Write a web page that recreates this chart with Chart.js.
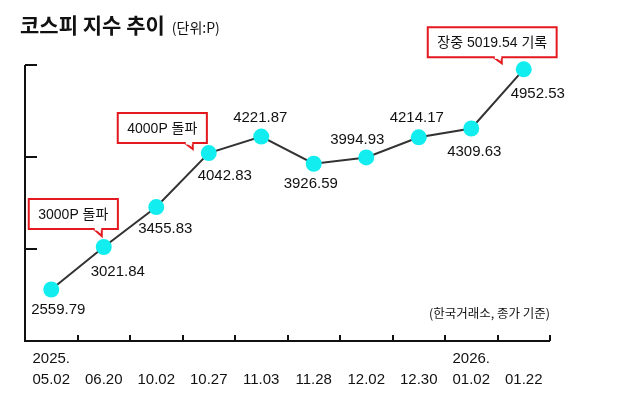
<!DOCTYPE html>
<html>
<head>
<meta charset="utf-8">
<script src="https://cdn.jsdelivr.net/npm/chart.js@4"></script>
<style>
  html, body { margin: 0; padding: 0; background: #fff; }
  #wrap { position: relative; width: 640px; height: 397px; overflow: hidden; }
  #title { position: absolute; left: 20px; top: 8px; line-height: 32px; white-space: nowrap;
           font-family: 'Noto Sans CJK KR', sans-serif; font-weight: 700; font-size: 21px; color: #111; }
  #title span { font-size: 14px; font-weight: 400; margin-left: 7px; }
  #source { position: absolute; left: 429px; top: 305px; line-height: 16px; white-space: nowrap;
            font-family: 'Noto Sans CJK KR', sans-serif; font-size: 12.5px; color: #111; }
  canvas { position: absolute; left: 0; top: 0; }
</style>
</head>
<body>
<div id="wrap">
  <canvas id="chart" width="640" height="397"></canvas>
  <div id="title">코스피 지수 추이<span>(단위:P)</span></div>
  <div id="source">(한국거래소, 종가 기준)</div>
</div>
<script>
// KOSPI closing values
const years = ['2025.', '', '', '', '', '', '', '', '2026.', ''];
const dates = ['05.02', '06.20', '10.02', '10.27', '11.03', '11.28', '12.02', '12.30', '01.02', '01.22'];
const values = [2559.79, 3021.84, 3455.83, 4042.83, 4221.87, 3926.59, 3994.93, 4214.17, 4309.63, 4952.53];
const yTicks = [2000, 3000, 4000, 5000];
const calloutIndex = [1, 3, 9];
const calloutText = ['3000P 돌파', '4000P 돌파', '장중 5019.54 기록'];

const LABEL_FONT = '15px "Liberation Sans", "Noto Sans CJK KR", sans-serif';
const BOX_FONT = '14px "Liberation Sans", "Noto Sans CJK KR", sans-serif';

const annotate = {
  id: 'annotate',
  beforeDatasetsDraw(chart) {
    const { ctx, chartArea: a, scales: { x, y } } = chart;
    ctx.save();
    ctx.strokeStyle = '#111';
    ctx.lineWidth = 2;
    ctx.beginPath();
    ctx.moveTo(a.left, a.top);
    ctx.lineTo(a.left, a.bottom);
    ctx.lineTo(a.right, a.bottom);
    // y ticks point inward
    yTicks.forEach(v => {
      const py = Math.round(y.getPixelForValue(v));
      ctx.moveTo(a.left, py);
      ctx.lineTo(a.left + 12, py);
    });
    // x ticks sit between categories
    for (let i = 1; i <= dates.length; i++) {
      const px = i < dates.length
        ? (x.getPixelForValue(i - 1) + x.getPixelForValue(i)) / 2
        : a.right;
      ctx.moveTo(Math.round(px), a.bottom);
      ctx.lineTo(Math.round(px), a.bottom - 6);
    }
    ctx.stroke();
    ctx.restore();
  },
  afterDatasetsDraw(chart, args, opts) {
    const { ctx } = chart;
    const pts = chart.getDatasetMeta(0).data;
    ctx.save();

    // value labels
    ctx.font = LABEL_FONT;
    ctx.fillStyle = '#111';
    ctx.textAlign = 'center';
    ctx.textBaseline = 'middle';
    pts.forEach((p, i) => {
      const [dx, dy] = opts.labelOffsets[i];
      ctx.fillText(values[i].toFixed(2), p.x + dx, p.y + dy);
    });

    // callout boxes
    ctx.font = BOX_FONT;
    calloutIndex.forEach((idx, k) => {
      const p = pts[idx];
      const c = opts.callouts[k];
      const w = ctx.measureText(calloutText[k]).width + 19;
      const h = 30;
      const left = p.x + c.left;
      const bottom = p.y + c.bottom;
      const top = bottom - h;
      const tipX = p.x + c.tipX;
      const tipY = p.y + c.tipY;

      ctx.fillStyle = '#fff';
      ctx.strokeStyle = '#e3191f';
      ctx.lineWidth = 2;
      ctx.beginPath();
      ctx.rect(left, top, w, h);
      ctx.fill();
      ctx.stroke();

      // pointer
      ctx.beginPath();
      ctx.moveTo(tipX - 8, bottom);
      ctx.lineTo(tipX, tipY);
      ctx.lineTo(tipX, bottom);
      ctx.closePath();
      ctx.fill();
      ctx.beginPath();
      ctx.moveTo(tipX - 8, bottom);
      ctx.lineTo(tipX, tipY);
      ctx.lineTo(tipX, bottom);
      ctx.stroke();
      ctx.fillStyle = '#fff';
      ctx.fillRect(tipX - 7, bottom - 1.5, 6.5, 3);

      ctx.fillStyle = '#111';
      ctx.fillText(calloutText[k], left + w / 2, top + h / 2 + 1);
    });
    ctx.restore();
  }
};

new Chart(document.getElementById('chart'), {
  type: 'line',
  data: {
    labels: dates.map((d, i) => [years[i], d]),
    datasets: [{
      data: values,
      borderColor: '#333',
      borderWidth: 2,
      pointRadius: 8,
      pointHoverRadius: 8,
      pointBackgroundColor: '#12eef0',
      pointBorderWidth: 0,
      tension: 0,
      clip: false
    }]
  },
  options: {
    responsive: false,
    animation: false,
    devicePixelRatio: 1,
    layout: { padding: { left: 25, right: 90, top: 65, bottom: 0 } },
    scales: {
      x: {
        offset: true,
        grid: { display: false, drawTicks: false },
        border: { display: false },
        ticks: {
          color: '#111',
          autoSkip: false,
          maxRotation: 0,
          padding: 7,
          font: { family: '"Liberation Sans", sans-serif', size: 15, lineHeight: 1.4 }
        },
        afterFit: s => { s.height = 56; }
      },
      y: { display: false, min: 2000, max: 5000 }
    },
    plugins: {
      legend: { display: false },
      tooltip: { enabled: false },
      annotate: {
        labelOffsets: [[7, 20], [14, 25], [9, 22], [16, 23], [-1, -19], [-3, 20], [-9, -18], [-2, -19], [3, 23], [14, 24]],
        callouts: [
          { left: -75, bottom: -18, tipX: -2, tipY: -11 },
          { left: -91, bottom: -10, tipX: -16, tipY: -4 },
          { left: -96, bottom: -12, tipX: -22, tipY: -6 }
        ]
      }
    }
  },
  plugins: [annotate]
});
</script>
</body>
</html>
